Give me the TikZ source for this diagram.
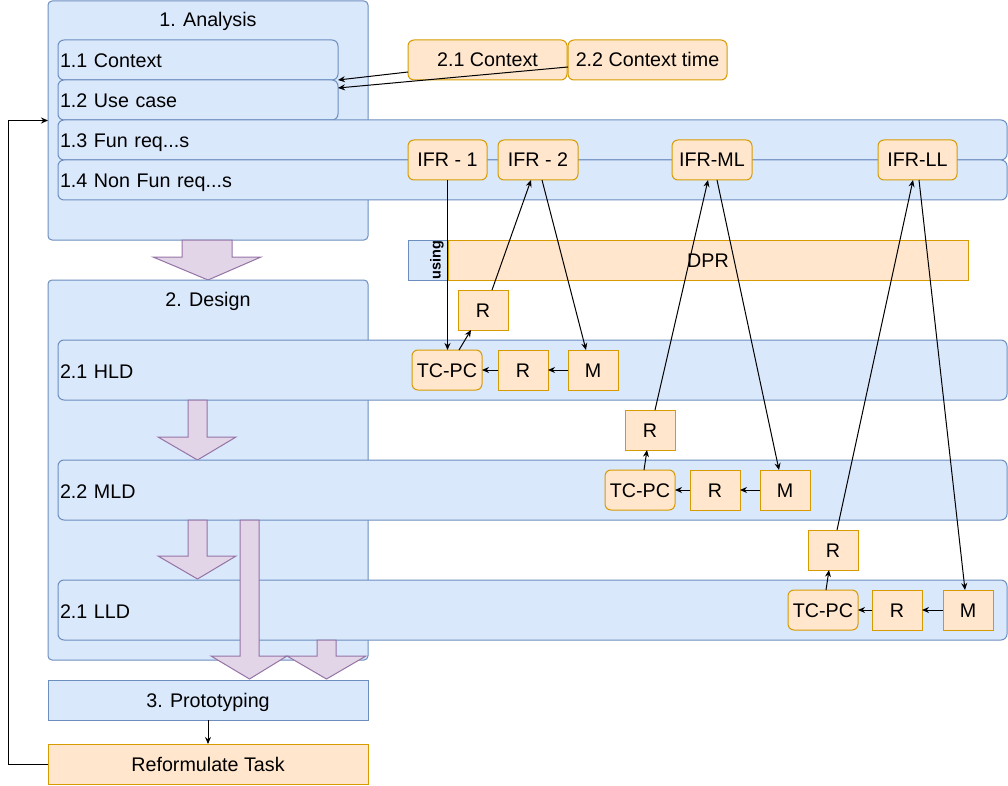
\documentclass[tikz,border=0pt]{standalone}
\usepackage{fontspec}
\setmainfont{Liberation Sans}
\usetikzlibrary{arrows.meta,calc}
\definecolor{bfill}{HTML}{DAE8FC}
\definecolor{bdraw}{HTML}{6C8EBF}
\definecolor{ofill}{HTML}{FFE6CC}
\definecolor{odraw}{HTML}{D79B00}
\definecolor{pfill}{HTML}{E1D5E7}
\definecolor{pdraw}{HTML}{9673A6}
\begin{document}
\begin{tikzpicture}[x=1pt,y=-1pt,
  base/.style={anchor=north west, inner sep=0pt, outer sep=0pt, line width=1pt, font=\fontsize{19.7}{23}\selectfont, text height=17pt, text depth=3pt},
  bluebox/.style={base, draw=bdraw, fill=bfill, rounded corners=4pt},
  bluerow/.style={base, draw=bdraw, fill=bfill, rounded corners=6pt, inner xsep=2pt, align=left, text height=18pt, text depth=2pt},
  bluesq/.style={base, draw=bdraw, fill=bfill},
  orng/.style={base, draw=odraw, fill=ofill},
  orngr/.style={orng, rounded corners=6pt},
  txt/.style={inner sep=0pt, font=\fontsize{19.7}{23}\selectfont, text height=17pt, text depth=3pt},
  arr/.style={-{Stealth[length=7pt,width=6pt]}, line width=1pt},
  fat/.style={draw=pdraw, fill=pfill, line width=1pt, line join=miter}
]
\useasboundingbox (0,0) rectangle (1008,786);

% ---------- Analysis ----------
\node[bluebox, minimum width=320pt, minimum height=239pt] (an) at (48,1) {};
\node[txt] (anT) at (208,19.5) {1. Analysis};
\node[bluerow, text width=276pt, minimum height=40pt] (r11) at (58,40) {1.1 Context};
\node[bluerow, text width=276pt, minimum height=40pt] (r12) at (58,80) {1.2 Use case};
\node[bluerow, text width=945pt, minimum height=40pt] (r13) at (58,120) {1.3 Fun req...s};
\node[bluerow, text width=945pt, minimum height=40pt] (r14) at (58,160) {1.4 Non Fun req...s};

% ---------- Context ----------
\node[orngr, minimum width=159pt, minimum height=40pt] (c21) at (408,40) {2.1 Context};
\node[orngr, minimum width=159pt, minimum height=40pt] (c22) at (568,40) {2.2 Context time};

% ---------- IFR ----------
\node[orngr, minimum width=79pt, minimum height=40pt] (ifr1) at (408,140) {IFR - 1};
\node[orngr, minimum width=80pt, minimum height=40pt] (ifr2) at (498,140) {IFR - 2};
\node[orngr, minimum width=80pt, minimum height=40pt] (ifrml) at (672,140) {IFR-ML};
\node[orngr, minimum width=79pt, minimum height=40pt] (ifrll) at (878,140) {IFR-LL};

% ---------- DPR ----------
\node[bluesq, minimum width=40pt, minimum height=40pt] (use) at (408,240) {};
\node[rotate=90, inner sep=0pt, font=\bfseries\fontsize{14.5}{16}\selectfont] (useT) at (437,260) {using};
\node[orng, minimum width=520pt, minimum height=40pt] (dpr) at (448,240) {DPR};

% ---------- Analysis -> Design ----------
\draw[fat] (182,240) -- (182,257) -- (153,257) -- (208,280) -- (261,257) -- (232,257) -- (232,240) -- cycle;

% ---------- Design ----------
\node[bluebox, minimum width=320pt, minimum height=380pt] (de) at (48,280) {};
\node[txt] (deT) at (208,299.5) {2. Design};
\node[bluerow, text width=945pt, minimum height=60pt] (hld) at (58,340) {2.1 HLD};
\draw[fat] (188,400) -- (188,437) -- (158,437) -- (197.5,460) -- (236,437) -- (207,437) -- (207,400) -- cycle;
\node[bluerow, text width=945pt, minimum height=60pt] (mld) at (58,460) {2.2 MLD};
\draw[fat] (188,520) -- (188,556) -- (158,556) -- (197.5,579) -- (236,556) -- (207,556) -- (207,520) -- cycle;
\node[bluerow, text width=945pt, minimum height=60pt] (lld) at (58,580) {2.1 LLD};
\draw[fat] (240,520) -- (240,656) -- (211,656) -- (249.5,679) -- (287,656) -- (259,656) -- (259,520) -- cycle;
\draw[fat] (317,640) -- (317,656) -- (287,656) -- (326.5,679) -- (366,656) -- (336,656) -- (336,640) -- cycle;

% ---------- HLD row ----------
\node[orng, minimum width=50pt, minimum height=40pt] (rhu) at (458,290) {R};
\node[orngr, minimum width=70pt, minimum height=40pt] (tch) at (412,350) {TC-PC};
\node[orng, minimum width=50pt, minimum height=40pt] (rh) at (498,350) {R};
\node[orng, minimum width=50pt, minimum height=40pt] (mh) at (568,350) {M};

% ---------- MLD row ----------
\node[orng, minimum width=50pt, minimum height=40pt] (rmu) at (625,410) {R};
\node[orngr, minimum width=70pt, minimum height=40pt] (tcm) at (605,470) {TC-PC};
\node[orng, minimum width=50pt, minimum height=40pt] (rm) at (690,470) {R};
\node[orng, minimum width=50pt, minimum height=40pt] (mm) at (760,470) {M};

% ---------- LLD row ----------
\node[orng, minimum width=50pt, minimum height=40pt] (rlu) at (808,530) {R};
\node[orngr, minimum width=70pt, minimum height=40pt] (tcl) at (788,590) {TC-PC};
\node[orng, minimum width=50pt, minimum height=40pt] (rl) at (872,590) {R};
\node[orng, minimum width=50pt, minimum height=40pt] (ml) at (943,590) {M};

% ---------- Prototyping / Reformulate ----------
\node[bluesq, minimum width=320pt, minimum height=40pt] (pro) at (48,680) {3. Prototyping};
\node[orng, minimum width=320pt, minimum height=40pt] (ref) at (48,744) {Reformulate Task};

% ---------- connectors ----------
\draw[arr] ([yshift=-12pt]c21.west) -- (r12.north east);
\draw[arr] ([yshift=-7pt]c22.west) -- ([yshift=-8pt]r12.north east);

\draw[arr] (ifr1.south) -- (ifr1.south |- tch.north);
\draw[arr] ([xshift=12pt]tch.north) -- ([xshift=-12pt]rhu.south);
\draw[arr] ([xshift=9pt]rhu.north) -- ([xshift=-7pt]ifr2.south);
\draw[arr] ([xshift=4pt]ifr2.south) -- ([xshift=-7pt]mh.north);
\draw[arr] (mh.west) -- (rh.east);
\draw[arr] (rh.west) -- (tch.east);

\draw[arr] ([xshift=4pt]tcm.north) -- ([xshift=-3pt]rmu.south);
\draw[arr] ([xshift=5pt]rmu.north) -- ([xshift=-4pt]ifrml.south);
\draw[arr] ([xshift=5pt]ifrml.south) -- ([xshift=-6pt]mm.north);
\draw[arr] (mm.west) -- (rm.east);
\draw[arr] (rm.west) -- (tcm.east);

\draw[arr] ([xshift=3pt]tcl.north) -- ([xshift=-4pt]rlu.south);
\draw[arr] ([xshift=4pt]rlu.north) -- ([xshift=-4.5pt]ifrll.south);
\draw[arr] ([xshift=1.5pt]ifrll.south) -- ([xshift=-3pt]ml.north);
\draw[arr] (ml.west) -- (rl.east);
\draw[arr] (rl.west) -- (tcl.east);

\draw[arr] (pro.south) -- (ref.north);
\draw[arr] (ref.west) -- ++(-40,0) |- (an.west);
\end{tikzpicture}
\end{document}
